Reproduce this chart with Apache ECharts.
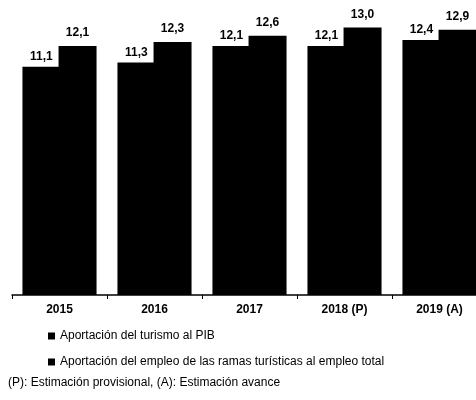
<!DOCTYPE html>
<html><head><meta charset="utf-8">
<script src="https://cdn.jsdelivr.net/npm/echarts@6/dist/echarts.min.js"></script>
<style>html,body{margin:0;padding:0;background:#fff;overflow:hidden;width:476px;height:400px}#c{width:487px;height:400px}</style>
</head><body><div id="c"></div>
<script>
const categories = ['2015', '2016', '2017', '2018 (P)', '2019 (A)'];
const pibValues = [11.1, 11.3, 12.1, 12.1, 12.4];
const empleoValues = [12.1, 12.3, 12.6, 13.0, 12.9];
const seriesNames = ['Aportación del turismo al PIB', 'Aportación del empleo de las ramas turísticas al empleo total'];
const footnote = '(P): Estimación provisional, (A): Estimación avance';

const font = 'Liberation Sans, Arial, sans-serif';
const fmt = p => p.value.toFixed(1).replace('.', ',');
const chart = echarts.init(document.getElementById('c'));
const barStyle = { color: '#000', borderWidth: 0 };
chart.setOption({
  animation: false,
  grid: { left: 12, top: 7, right: 0, bottom: 105, containLabel: false },
  xAxis: {
    type: 'category', data: categories,
    axisLine: { lineStyle: { color: '#000', width: 1.5 } },
    axisTick: { show: true, length: 4, lineStyle: { color: '#000' } },
    axisLabel: { color: '#000', fontFamily: font, fontSize: 12, fontWeight: 'bold', margin: 9 }
  },
  yAxis: { type: 'value', min: 0, max: 14, show: false, splitLine: { show: false } },
  legend: {
    orient: 'vertical', left: 48, top: 330, padding: 0, itemWidth: 7, itemHeight: 7, itemGap: 14,
    icon: 'rect',
    textStyle: { color: '#000', fontFamily: font, fontSize: 12 },
    data: seriesNames
  },
  title: {
    text: footnote, left: 3, top: 372,
    textStyle: { color: '#000', fontFamily: font, fontSize: 12, fontWeight: 'normal' }
  },
  series: [
    { name: seriesNames[0], type: 'bar', data: pibValues, barWidth: 38, barGap: '-5%',
      itemStyle: barStyle,
      label: { show: true, position: 'top', distance: 4, color: '#000', fontFamily: font, fontSize: 12, fontWeight: 'bold', formatter: fmt } },
    { name: seriesNames[1], type: 'bar', data: empleoValues, barWidth: 38, barGap: '-5%',
      itemStyle: barStyle,
      label: { show: true, position: 'top', distance: 7, color: '#000', fontFamily: font, fontSize: 12, fontWeight: 'bold', formatter: fmt } }
  ]
});
</script></body></html>
